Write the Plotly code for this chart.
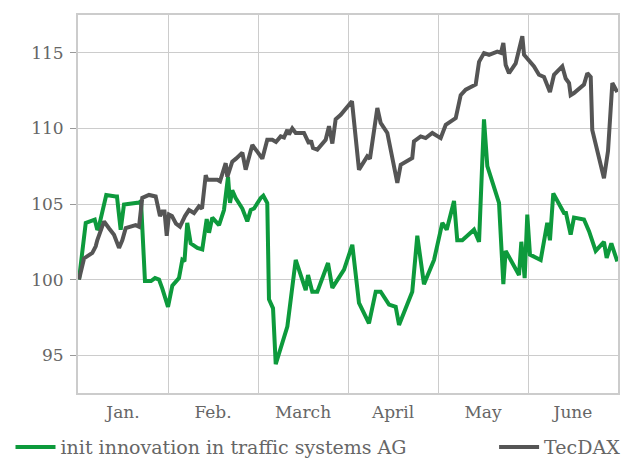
import plotly.graph_objects as go

# Month labels (x axis in month units: 0 = start of Jan., 6 = end of June)
months = ["Jan.", "Feb.", "March", "April", "May", "June"]
y_ticks = [95, 100, 105, 110, 115]

# init innovation in traffic systems AG (indexed, start = 100)
init_x = [0.011, 0.086, 0.186, 0.214, 0.228, 0.25, 0.314, 0.419, 0.433, 0.474, 0.511, 0.678, 0.700,
          0.744, 0.811, 0.856, 0.900, 0.937, 1.000, 1.048, 1.122, 1.159, 1.183, 1.214, 1.252, 1.326,
          1.381, 1.430, 1.456, 1.492, 1.567, 1.622, 1.667, 1.689, 1.714, 1.752, 1.826, 1.881, 1.919,
          1.956, 2.030, 2.059, 2.103, 2.122, 2.167, 2.197, 2.326, 2.419, 2.530, 2.556, 2.603, 2.659,
          2.778, 2.826, 2.956, 3.048, 3.122, 3.233, 3.308, 3.363, 3.456, 3.530, 3.567, 3.714, 3.770,
          3.844, 3.956, 4.048, 4.097, 4.178, 4.214, 4.270, 4.400, 4.456, 4.511, 4.548, 4.678, 4.726,
          4.752, 4.900, 4.926, 4.963, 4.992, 5.022, 5.141, 5.214, 5.244, 5.281, 5.400, 5.422, 5.474,
          5.511, 5.622, 5.678, 5.752, 5.844, 5.874, 5.926, 5.992]
init_y = [100.0, 103.75, 103.97, 103.3, 103.4, 104.0, 105.6, 105.5, 105.5, 103.3, 104.96, 105.1, 105.2,
          99.9, 99.9, 100.1, 100.0, 99.4, 98.2, 99.6, 100.1, 101.3, 101.2, 103.75, 102.4, 102.1,
          102.0, 104.0, 103.1, 104.1, 103.6, 104.6, 106.8, 105.07, 105.9, 105.4, 104.7, 103.85, 104.6,
          104.7, 105.4, 105.55, 105.07, 98.7, 98.1, 94.4, 96.9, 101.3, 99.3, 100.3, 99.2, 99.2,
          101.1, 99.45, 100.66, 102.3, 98.46, 97.1, 99.2, 99.2, 98.35, 98.2, 97.0, 99.2, 102.9,
          99.7, 101.3, 103.75, 103.3, 105.2, 102.6, 102.6, 103.3, 102.5, 110.6, 107.5, 105.07, 99.7,
          101.9, 100.3, 102.5, 100.1, 104.3, 101.65, 101.3, 103.75, 102.6, 105.7, 104.4, 104.4, 102.97,
          104.1, 103.97, 103.2, 101.9, 102.5, 101.43, 102.4, 101.2]

# TecDAX (indexed, start = 100)
tec_x = [0.011, 0.067, 0.159, 0.197, 0.214, 0.289, 0.344, 0.400, 0.456, 0.492, 0.530, 0.641, 0.678,
         0.714, 0.789, 0.863, 0.911, 0.937, 0.961, 0.986, 1.011, 1.044, 1.089, 1.133, 1.189, 1.233,
         1.289, 1.344, 1.378, 1.419, 1.437, 1.548, 1.578, 1.641, 1.659, 1.714, 1.756, 1.826, 1.863,
         1.937, 2.000, 2.048, 2.103, 2.159, 2.200, 2.252, 2.289, 2.326, 2.344, 2.381, 2.419, 2.511,
         2.567, 2.589, 2.611, 2.659, 2.752, 2.789, 2.826, 2.863, 2.919, 3.044, 3.122, 3.189, 3.214,
         3.244, 3.326, 3.363, 3.437, 3.548, 3.586, 3.714, 3.733, 3.808, 3.863, 3.937, 4.030, 4.086,
         4.197, 4.252, 4.308, 4.419, 4.456, 4.511, 4.567, 4.659, 4.700, 4.726, 4.752, 4.789, 4.863,
         4.937, 4.956, 5.067, 5.122, 5.178, 5.244, 5.289, 5.381, 5.419, 5.456, 5.474, 5.511, 5.622,
         5.659, 5.697, 5.714, 5.844, 5.889, 5.937, 5.992]
tec_y = [100.0, 101.4, 101.76, 102.2, 102.6, 103.85, 103.4, 102.97, 102.1, 102.6, 103.4, 103.6, 103.5,
         105.4, 105.6, 105.5, 104.2, 104.5, 104.5, 102.9, 104.3, 104.2, 103.7, 103.5, 104.2, 104.6,
         104.4, 104.85, 104.7, 106.9, 106.6, 106.6, 106.5, 107.7, 106.8, 107.8, 108.0, 108.4, 107.27,
         108.9, 108.4, 108.0, 109.25, 109.25, 109.1, 109.47, 109.4, 109.9, 109.6, 110.0, 109.7, 109.7,
         109.0, 109.2, 108.7, 108.6, 109.25, 110.15, 109.0, 110.6, 110.9, 111.8, 107.27, 108.0, 108.15,
         108.0, 111.35, 110.36, 109.7, 106.4, 107.6, 108.04, 109.14, 109.47, 109.36, 109.7, 109.36, 110.24,
         110.68, 112.2, 112.56, 112.9, 114.4, 114.98, 114.87, 115.08, 115.0, 115.65, 114.2, 113.65, 114.3,
         116.1, 114.87, 114.1, 113.55, 113.4, 112.4, 113.55, 114.1, 113.3, 113.0, 112.2, 112.34, 112.9,
         113.65, 113.4, 109.9, 106.7, 108.5, 113.0, 112.4]

GREEN = "#0d9a3c"
DARK = "#555555"
GRID = "#cccccc"
FONT = "DejaVu Serif"
TXT = "#666666"

fig = go.Figure()
fig.add_trace(go.Scatter(x=init_x, y=init_y, mode="lines", name="init innovation in traffic systems AG",
                         line=dict(color=GREEN, width=4), legend="legend"))
fig.add_trace(go.Scatter(x=tec_x, y=tec_y, mode="lines", name="TecDAX",
                         line=dict(color=DARK, width=4), legend="legend2"))

fig.update_layout(
    width=628, height=459,
    margin=dict(l=78, r=10, t=15, b=66, autoexpand=False),
    plot_bgcolor="white", paper_bgcolor="white",
    font=dict(family=FONT, size=17, color=TXT),
    showlegend=True,
    legend=dict(x=-0.125, xanchor="left", y=-0.143, yanchor="middle", orientation="h",
                font=dict(family=FONT, size=19, color=TXT), bgcolor="rgba(0,0,0,0)", itemwidth=40),
    legend2=dict(x=1.015, xanchor="right", y=-0.143, yanchor="middle", orientation="h",
                 font=dict(family=FONT, size=19, color=TXT), bgcolor="rgba(0,0,0,0)", itemwidth=40),
)

fig.update_xaxes(
    range=[0, 6], tickmode="array", tickvals=[i + 0.5 for i in range(len(months))], ticktext=months,
    showgrid=False, ticks="", zeroline=False,
    showline=True, linecolor=GRID, linewidth=2, mirror=True,
    minor=dict(tickmode="array", tickvals=list(range(1, len(months))), showgrid=True,
               gridcolor=GRID, gridwidth=1.3, ticks=""),
    ticklabelstandoff=3,
    tickfont=dict(family=FONT, size=17, color=TXT),
)
fig.update_yaxes(
    range=[92.5, 117.5], tickmode="array", tickvals=y_ticks,
    showgrid=True, gridcolor=GRID, gridwidth=1.3, zeroline=False,
    showline=True, linecolor=GRID, linewidth=2, mirror=True,
    ticks="outside", ticklen=6, tickcolor="#999999", tickwidth=1,
    ticklabelstandoff=3,
    tickfont=dict(family=FONT, size=17, color=TXT),
)

fig.write_html("out.html", config={"displayModeBar": False},
               post_script="document.body.style.margin='0';")
